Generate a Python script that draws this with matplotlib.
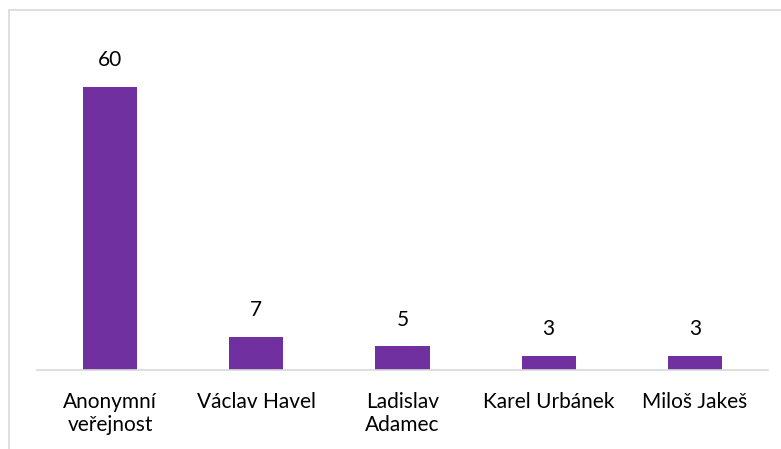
import matplotlib
matplotlib.use("Agg")
import matplotlib.pyplot as plt
from matplotlib.patches import Rectangle

categories = ["Anonymní\nveřejnost", "Václav Havel", "Ladislav\nAdamec", "Karel Urbánek", "Miloš Jakeš"]
values = [60, 7, 5, 3, 3]

bar_color = "#7030A0"

plt.rcParams["font.family"] = ["Lato", "DejaVu Sans"]

W, H = 781, 449
fig = plt.figure(figsize=(W / 100, H / 100), dpi=100)
ax = fig.add_axes([37 / W, 1 - 370 / H, (768 - 37) / W, (370 - 30) / H])

x = range(len(categories))
bars = ax.bar(x, values, width=0.37, color=bar_color)

for b, v in zip(bars, values):
    ax.annotate(str(v), (b.get_x() + b.get_width() / 2, v),
                xytext=(0, 12), textcoords="offset points",
                ha="center", va="bottom", fontsize=15, color="#000000")

ax.set_xlim(-0.5, len(categories) - 0.5)
ax.set_ylim(0, 72)
ax.set_xticks(list(x))
ax.set_xticklabels(categories, fontsize=15, color="#000000", linespacing=1.15)
ax.tick_params(axis="x", length=0, pad=16)
ax.set_yticks([])
for s in ["top", "right", "left"]:
    ax.spines[s].set_visible(False)
ax.spines["bottom"].set_color("#D9D9D9")
ax.spines["bottom"].set_linewidth(1.2)

# outer chart border (cut off at right and bottom)
fig.patches.append(Rectangle((9 / W, -0.1), 1.2, 1 - 10 / H + 0.1,
                             transform=fig.transFigure, fill=False,
                             edgecolor="#D9D9D9", linewidth=1.2))

fig.savefig("out.png", dpi=100)
